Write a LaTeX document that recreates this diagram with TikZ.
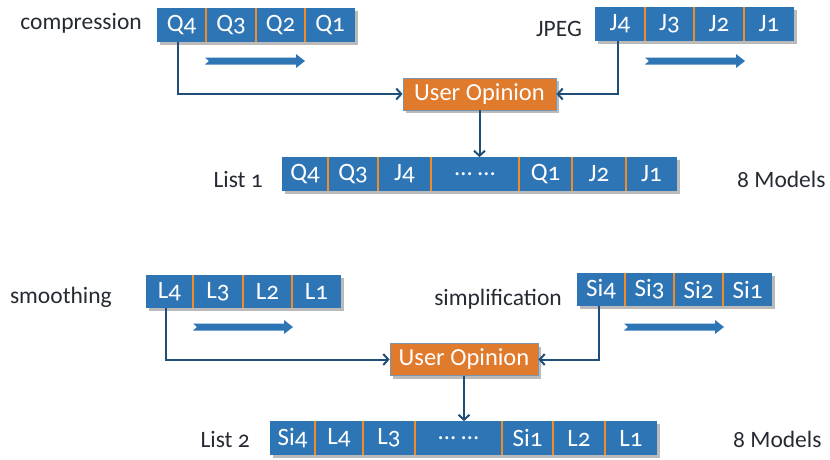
\documentclass[tikz,border=0pt]{standalone}
\usepackage{fontspec}
\setmainfont[Numbers=OldStyle]{Carlito}
\usetikzlibrary{positioning,fit,backgrounds,shadows,arrows.meta}

\definecolor{boxblue}{HTML}{2E75B6}
\definecolor{cutorange}{HTML}{F28C28}
\definecolor{opinion}{HTML}{E07A2C}
\definecolor{wire}{HTML}{1F4E79}
\definecolor{ink}{HTML}{262A33}

% one strip of models: prefix, y centre, number of cells, label/left/right
\newcommand{\modelstrip}[4]{%
  \foreach \lbl/\xa/\xb [count=\i] in {#4}
    \node[cell, minimum width={\xb-\xa}] (#1\i) at ({(\xa+\xb)/2},#2) {\lbl};
  \foreach \i in {2,...,#3}
    \draw[divider] (#1\i.north west) -- (#1\i.south west);
  \begin{scope}[on background layer]
    \node[strip, fit=(#11)(#1#3)] (#1) {};
  \end{scope}}

\tikzset{sweep/.pic={
  \fill[boxblue] (0,-3.5) -- (91,-3.5) -- (91,-7) -- (100,0) -- (91,7)
    -- (91,3.5) -- (0,3.5) -- (4,0) -- cycle;}}

\begin{document}
\begin{tikzpicture}[x=1pt,y=-1pt,>={Straight Barb[length=5pt,width=11pt]},
    font=\fontsize{23.5}{28}\selectfont,
    cell/.style={inner sep=0pt,minimum height=33pt,text=white,
      font=\fontsize{25}{30}\selectfont},
    strip/.style={fill=boxblue,inner sep=0pt,
      drop shadow={shadow xshift=3pt,shadow yshift=-3pt,fill=black!45,opacity=.6}},
    opinion node/.style={fill=opinion,draw=wire!60,line width=.8pt,inner sep=0pt,
      minimum height=32pt,text=white,font=\fontsize{24.5}{29}\selectfont,
      drop shadow={shadow xshift=3pt,shadow yshift=-3pt,fill=black!45,opacity=.6}},
    divider/.style={cutorange,line width=1.8pt},
    wire/.style={draw=wire,line width=2pt,->},
    caption/.style={text=ink,inner sep=0pt}]

  \useasboundingbox (0,0) rectangle (830,459);

  % first pair: compression and JPEG
  \modelstrip{q}{25}{4}{Q4/157/206, Q3/206/256, Q2/256/305, Q1/305/355}
  \modelstrip{j}{24}{4}{J4/595/645, J3/645/694, J2/694/744, J1/744/794}
  \modelstrip{ra}{174}{7}{Q4/282/328, Q3/328/378, J4/378/431,
    \dots\ \dots/431/519, Q1/519/572, J2/572/626, J1/626/677}

  \node[caption, anchor=base east] (tq) at (142,29) {compression};
  \node[caption, anchor=base east] (tj) at (582,36) {JPEG};
  \node[caption, anchor=base east] (tra) at (263,187) {List 1};
  \node[caption, anchor=base west] (ma) at (737,187) {8 Models};

  \pic at (205,61) {sweep};
  \pic at (645,61) {sweep};

  \node[opinion node, minimum width=153pt] (uo1) at (479.5,94) {User Opinion};

  \draw[wire] ([xshift=-4pt]q1.south) |- (uo1.west);
  \draw[wire] ([xshift=-2pt]j1.south) |- (uo1.east);
  \draw[wire] (uo1.south) -- (uo1.south |- ra.north);

  % second pair: smoothing and simplification
  \modelstrip{l}{291.5}{4}{L4/146/193, L3/193/243, L2/243/292, L1/292/341}
  \modelstrip{s}{289.5}{4}{Si4/577/625, Si3/625/674, Si2/674/723, Si1/723/772}
  \modelstrip{rb}{438}{7}{Si4/270/315, L4/315/363, L3/363/415,
    \dots\ \dots/415/502, Si1/502/553, L2/553/605, L1/605/657}

  \node[caption, anchor=base east] (tl) at (112,303) {smoothing};
  \node[caption, anchor=base east] (ts) at (562,305) {simplification};
  \node[caption, anchor=base east] (trb) at (250,447) {List 2};
  \node[caption, anchor=base west] (mb) at (733,447) {8 Models};

  \pic at (193,327) {sweep};
  \pic at (624,327) {sweep};

  \node[opinion node, minimum width=148pt] (uo2) at (464,359.5) {User Opinion};

  \draw[wire] ([xshift=-4pt]l1.south) |- (uo2.west);
  \draw[wire] ([xshift=-2pt]s1.south) |- (uo2.east);
  \draw[wire] (uo2.south) -- (uo2.south |- rb.north);
\end{tikzpicture}
\end{document}
